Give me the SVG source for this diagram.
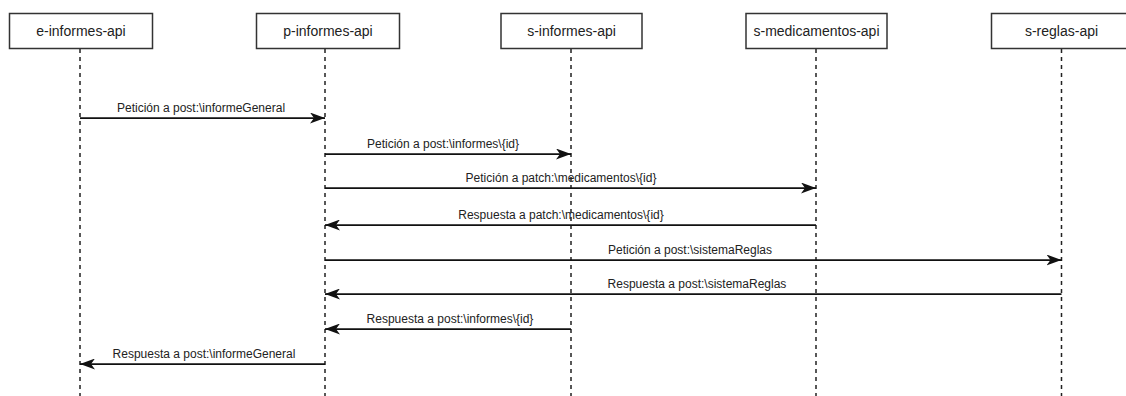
<svg xmlns="http://www.w3.org/2000/svg" width="1126" height="396" viewBox="0 0 1126 396">
  <style>
    .box { fill: #ffffff; stroke: #333333; stroke-width: 1.5; }
    .title { font-family: "Liberation Sans", Arial, sans-serif; font-size: 14px; fill: #222222; text-anchor: middle; }
    .life { stroke: #222222; stroke-width: 1.5; stroke-dasharray: 4 4; fill: none; }
    .msg { stroke: #111111; stroke-width: 1.75; fill: none; }
    .lbl { font-family: "Liberation Sans", Arial, sans-serif; font-size: 12px; fill: #222222; text-anchor: middle; }
  </style>
  <defs>
    <!-- notched block arrowhead shared by all messages -->
    <marker id="head" viewBox="0 0 15 11" refX="15" refY="5.5" markerWidth="15" markerHeight="11" markerUnits="userSpaceOnUse" orient="auto">
      <path d="M0,0 L15,5.5 L0,11 L4,5.5 Z" fill="#111111"/>
    </marker>
  </defs>
  <rect width="1126" height="396" fill="#ffffff"/>

  <g id="e-informes-api">
    <line class="life" x1="80" y1="49" x2="80" y2="396"/>
    <rect class="box" x="9.5" y="13.5" width="143" height="35"/>
    <text class="title" x="81" y="36">e-informes-api</text>
  </g>
  <g id="p-informes-api">
    <line class="life" x1="325" y1="49" x2="325" y2="396"/>
    <rect class="box" x="256.5" y="13.5" width="143" height="35"/>
    <text class="title" x="328" y="36">p-informes-api</text>
  </g>
  <g id="s-informes-api">
    <line class="life" x1="571" y1="49" x2="571" y2="396"/>
    <rect class="box" x="501" y="13.5" width="141" height="35"/>
    <text class="title" x="571.5" y="36">s-informes-api</text>
  </g>
  <g id="s-medicamentos-api">
    <line class="life" x1="816" y1="49" x2="816" y2="396"/>
    <rect class="box" x="746" y="13.5" width="141" height="35"/>
    <text class="title" x="816.5" y="36">s-medicamentos-api</text>
  </g>
  <g id="s-reglas-api">
    <line class="life" x1="1061.5" y1="49" x2="1061.5" y2="396"/>
    <rect class="box" x="991.5" y="13.5" width="141" height="35"/>
    <text class="title" x="1061.5" y="36">s-reglas-api</text>
  </g>

  <g id="messages">
    <line class="msg" x1="80" y1="118" x2="325" y2="118" marker-end="url(#head)"/>
    <text class="lbl" x="201" y="112">Petición a post:\informeGeneral</text>

    <line class="msg" x1="325" y1="154" x2="571" y2="154" marker-end="url(#head)"/>
    <text class="lbl" x="443" y="148">Petición a post:\informes\{id}</text>

    <line class="msg" x1="325" y1="188" x2="816" y2="188" marker-end="url(#head)"/>
    <text class="lbl" x="561" y="182">Petición a patch:\medicamentos\{id}</text>

    <line class="msg" x1="816" y1="225" x2="325" y2="225" marker-end="url(#head)"/>
    <text class="lbl" x="561" y="219">Respuesta a patch:\medicamentos\{id}</text>

    <line class="msg" x1="325" y1="260" x2="1061.5" y2="260" marker-end="url(#head)"/>
    <text class="lbl" x="690" y="254">Petición a post:\sistemaReglas</text>

    <line class="msg" x1="1061.5" y1="294" x2="325" y2="294" marker-end="url(#head)"/>
    <text class="lbl" x="697" y="288">Respuesta a post:\sistemaReglas</text>

    <line class="msg" x1="571" y1="329" x2="325" y2="329" marker-end="url(#head)"/>
    <text class="lbl" x="450" y="323">Respuesta a post:\informes\{id}</text>

    <line class="msg" x1="325" y1="364" x2="80" y2="364" marker-end="url(#head)"/>
    <text class="lbl" x="204" y="358">Respuesta a post:\informeGeneral</text>
  </g>
</svg>
